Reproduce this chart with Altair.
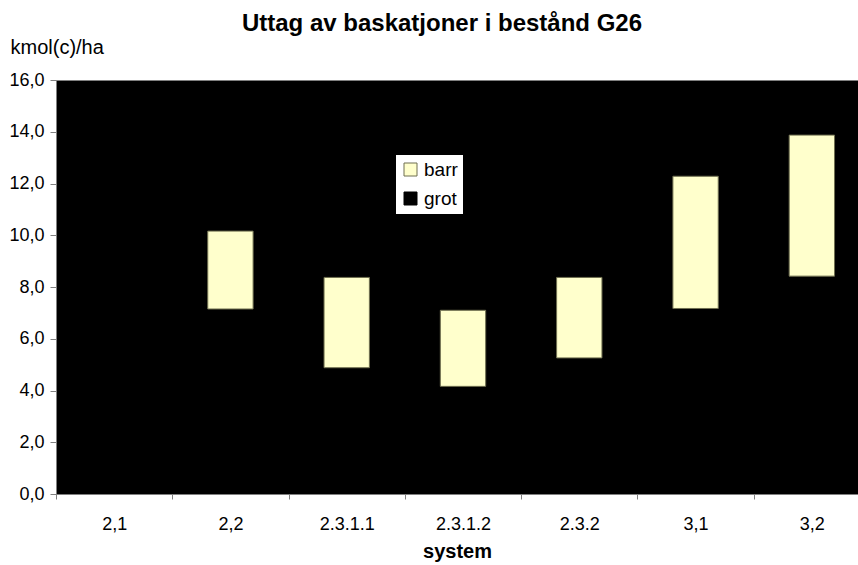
import altair as alt
import pandas as pd

# Removal of base cations (kmol(c)/ha) per harvest system, stand G26
systems = ["2,1", "2,2", "2.3.1.1", "2.3.1.2", "2.3.2", "3,1", "3,2"]
grot = [0.0, 7.15, 4.88, 4.16, 5.26, 7.17, 8.42]
barr = [0.0, 3.01, 3.49, 2.94, 3.11, 5.11, 5.45]

series = ["barr", "grot"]
series_colors = ["#FFFFCC", "#000000"]
series_outline = ["#6f6f50", "#000000"]

rows = []
for s, g, b in zip(systems, grot, barr):
    rows.append({"system": s, "komponent": "grot", "varde": g, "ordning": 0})
    rows.append({"system": s, "komponent": "barr", "varde": b, "ordning": 1})
df = pd.DataFrame(rows)
# empty segments are not drawn (they would show only as an outline)
df = df[df["varde"] > 0]

font = "Liberation Sans"
comma_fmt = "replace(format(datum.value, '.1f'), '.', ',')"

chart = (
    alt.Chart(df)
    .mark_bar(width={"band": 0.39}, strokeWidth=1)
    .encode(
        x=alt.X(
            "system:N",
            sort=systems,
            scale=alt.Scale(domain=systems, range=[0, 814], paddingInner=0, paddingOuter=0),
            axis=alt.Axis(
                title="system",
                labelAngle=0,
                labelFont=font,
                labelFontSize=18,
                labelColor="#000000",
                labelPadding=16,
                tickBand="extent",
                tickSize=5,
                tickColor="#808080",
                domainColor="#808080",
                titleFont=font,
                titleFontSize=20,
                titleFontWeight="bold",
                titleColor="#000000",
                titleX=401,
                titleY=63,
                titleBaseline="alphabetic",
                zindex=1,
            ),
        ),
        y=alt.Y(
            "varde:Q",
            stack="zero",
            scale=alt.Scale(domain=[0, 16], nice=False),
            axis=alt.Axis(
                title="kmol(c)/ha",
                values=[0, 2, 4, 6, 8, 10, 12, 14, 16],
                labelExpr=comma_fmt,
                labelFont=font,
                labelFontSize=18,
                labelColor="#000000",
                labelPadding=6,
                tickSize=6,
                tickColor="#808080",
                domainColor="#808080",
                grid=False,
                titleAngle=0,
                titleAlign="left",
                titleBaseline="alphabetic",
                titleX=-46,
                titleY=-27,
                titleFont=font,
                titleFontSize=20,
                titleFontWeight="normal",
                titleColor="#000000",
                zindex=1,
            ),
        ),
        color=alt.Color(
            "komponent:N",
            scale=alt.Scale(domain=series, range=series_colors),
            legend=alt.Legend(
                title=None,
                orient="none",
                legendX=340,
                legendY=75,
                fillColor="#FFFFFF",
                padding=5,
                symbolType="square",
                symbolSize=169,
                symbolStrokeColor="#404040",
                symbolStrokeWidth=1,
                labelFont=font,
                labelFontSize=19,
                labelColor="#000000",
                labelOffset=4,
                rowPadding=9,
            ),
        ),
        stroke=alt.Stroke(
            "komponent:N",
            scale=alt.Scale(domain=series, range=series_outline),
            legend=None,
        ),
        order=alt.Order("ordning:Q", sort="ascending"),
    )
    .properties(
        width=802,
        height=414,
        autosize=alt.AutoSizeParams(type="none"),
        padding={"left": 56, "top": 80, "right": 0, "bottom": 71},
        view=alt.ViewBackground(fill="#000000", stroke="#808080", strokeWidth=1),
        title=alt.TitleParams(
            "Uttag av baskatjoner i bestånd G26",
            font=font,
            fontSize=24,
            fontWeight="bold",
            color="#000000",
            anchor="middle",
            dx=-15,
            dy=9,
            offset=10,
        ),
    )
    .configure(background="#FFFFFF")
)

chart.save("out.html", embed_options={"renderer": "svg", "actions": False})
